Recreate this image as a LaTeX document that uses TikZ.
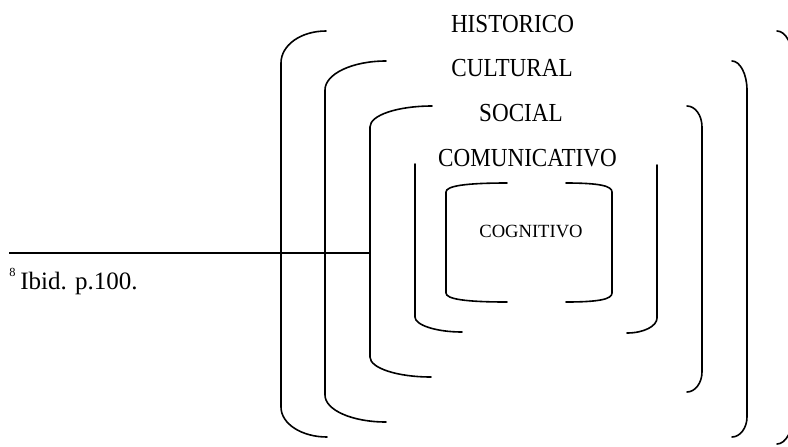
\documentclass[tikz,border=0pt]{standalone}
\usepackage{graphicx}
\usepackage{fontspec}
\setmainfont{Liberation Serif}
\begin{document}
\begin{tikzpicture}[x=0.5pt,y=-0.5pt,
  brk/.style={line width=0.8pt, line cap=round, line join=round},
  rule/.style={line width=1pt},
  lbl/.style={anchor=base, inner sep=0pt, font=\fontsize{13}{15}\selectfont},
  smalllbl/.style={anchor=base, inner sep=0pt, font=\fontsize{9.3}{11}\selectfont},
  fnlbl/.style={anchor=base west, inner sep=0pt, font=\fontsize{12.5}{14}\selectfont},
  fnmark/.style={anchor=base west, inner sep=0pt, font=\fontsize{6.2}{7}\selectfont}]
\useasboundingbox (0,0) rectangle (788,446);
\clip (0,0) rectangle (788,446);

% bracket 1 (HISTORICO)
\draw[brk] (326,31) .. controls (301,31) and (281,45) .. (281,63) -- (281,407)
  .. controls (281,424) and (302,437) .. (327,437);
\draw[brk] (777,31) .. controls (786,31) and (793,45) .. (793,62) -- (793,415)
  .. controls (793,430) and (786,444) .. (777,444);

% bracket 2 (CULTURAL)
\draw[brk] (386,61) .. controls (352,61) and (325,74) .. (325,90) -- (325,395)
  .. controls (325,410) and (352,422) .. (386,422);
\draw[brk] (732,61) .. controls (740,61) and (747,74) .. (747,90) -- (747,417)
  .. controls (747,428) and (740,437) .. (732,437);

% bracket 3 (SOCIAL)
\draw[brk] (432,106) .. controls (398,106) and (370,115) .. (370,127) -- (370,357)
  .. controls (370,368) and (397,377) .. (431,377);
\draw[brk] (687,106) .. controls (695,106) and (702,115) .. (702,127) -- (702,372)
  .. controls (702,383) and (695,392) .. (687,392);

% bracket 4 (COMUNICATIVO)
\draw[brk] (415,164) -- (415,317) .. controls (415,325) and (436,332) .. (462,332);
\draw[brk] (657,165) -- (657,318) .. controls (657,326) and (644,333) .. (627,333);

% bracket 5 (COGNITIVO)
\draw[brk] (507,183) .. controls (465,183) and (446,186) .. (446,192) -- (446,293)
  .. controls (446,299) and (465,302) .. (507,302);
\draw[brk] (566,183) .. controls (600,183) and (612,186) .. (612,192) -- (612,293)
  .. controls (612,299) and (600,302) .. (566,302);

% labels
\node[lbl] (hist) at (512.5,32.5) {\scalebox{0.89}[1]{HISTORICO}};
\node[lbl] (cult) at (512,76) {\scalebox{0.89}[1]{CULTURAL}};
\node[lbl] (soc) at (521,121) {\scalebox{0.89}[1]{SOCIAL}};
\node[lbl] (com) at (527.5,166.5) {\scalebox{0.89}[1]{COMUNICATIVO}};
\node[smalllbl] (cog) at (531,237) {COGNITIVO};

% footnote rule and text
\coordinate (ruleL) at (9,252.5);
\coordinate (ruleR) at (370,252.5);
\draw[rule] (ruleL) -- (ruleR);
\node[fnmark] (fnm) at (9,276) {8};
\node[fnlbl] (fn) at (20,289) {Ibid. p.100.};
\end{tikzpicture}
\end{document}
